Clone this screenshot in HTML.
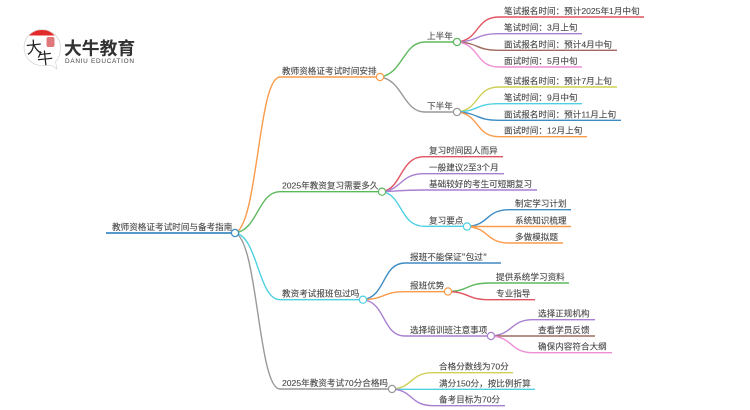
<!DOCTYPE html>
<html><head><meta charset="utf-8"><style>
html,body{margin:0;padding:0;background:#fff;width:750px;height:410px;overflow:hidden}
svg{display:block}
text{font-family:"Liberation Sans","Noto Sans CJK SC",sans-serif}
.t text{font-size:8.6px;fill:#4a4a4a;stroke:#4a4a4a;stroke-width:.12px}
.l path{fill:none;stroke-width:1.4}
.c circle{fill:#fff;stroke-width:1.2}
</style></head><body>
<svg width="750" height="410" viewBox="0 0 750 410" xmlns="http://www.w3.org/2000/svg">
<defs><filter id="b" x="-5%" y="-5%" width="110%" height="110%"><feGaussianBlur stdDeviation="0.28"/></filter></defs>
<g filter="url(#b)">
<!-- logo -->
<path d="M42 29.500C32 29.500 24 37.500 24 47.500C24 57.500 32 65.500 42 65.500C46 65.500 49 64.800 52 65.500L57 69L55.500 62C58.500 58.500 60.500 53 60.500 47.500C60.500 37.500 52 29.500 42 29.500Z" fill="#fff" stroke="#ccc" stroke-width="0.6"/>
<path d="M29 35.500C33 31.500 37 30 42 30C47 30 51 31.500 54.500 35.500Z" fill="#e32b2b"/>
<rect x="46.500" y="37" width="8" height="10" rx="2" fill="#e0777a"/>
<text x="26" y="53" font-size="16" fill="#222" transform="rotate(-6 34 47)" style="font-family:'Noto Sans CJK SC',sans-serif">大</text>
<text x="37" y="64" font-size="16" fill="#222" transform="rotate(-6 45 58)" style="font-family:'Noto Sans CJK SC',sans-serif">牛</text>
<text x="64" y="54.500" font-size="17.800" font-weight="bold" fill="#333" style="font-family:'Noto Sans CJK SC',sans-serif">大牛教育</text>
<text x="65" y="63" font-size="6.400" fill="#444" textLength="69">DANIU EDUCATION</text>

<g class="l">
<!-- root -->
<path d="M106 233H235" stroke="#3d8cc4" style="stroke-width:1.800px"/>
<path d="M235 233C258 226 258 77 280 77H380" stroke="#fa9b4b"/>
<path d="M235 233C258 230 258 191.700 280 191.700H382" stroke="#5cb85c"/>
<path d="M235 233C258 236 258 299.700 280 299.700H363" stroke="#4dd0e1"/>
<path d="M235 233C258 240 258 389 280 389H392" stroke="#999"/>
<!-- b1 -->
<path d="M380 77C403 74 403 42 425 42H457" stroke="#5cb85c"/>
<path d="M380 77C403 80 403 112 425 112H457" stroke="#999"/>
<path d="M457 42C480 40 475 17 499 17H644" stroke="#e0535f"/>
<path d="M457 42C480 41 475 33.700 499 33.700H582" stroke="#a97fd0"/>
<path d="M457 42C480 43 475 50.300 499 50.300H617" stroke="#9e6a5f"/>
<path d="M457 42C480 44 475 67 499 67H582" stroke="#ee8fd5"/>
<path d="M457 112C480 110 475 87 499 87H617" stroke="#cfcf55"/>
<path d="M457 112C480 111 475 103.700 499 103.700H582" stroke="#4dd0e1"/>
<path d="M457 112C480 113 475 120.300 499 120.300H621" stroke="#3d8cc4"/>
<path d="M457 112C480 114 475 136.700 499 136.700H587" stroke="#fa9b4b"/>
<!-- b2 -->
<path d="M382 191.700C402 189 400 156.700 424 156.700H503" stroke="#e0535f"/>
<path d="M382 191.700C402 190 400 173.700 424 173.700H504" stroke="#a97fd0"/>
<path d="M382 191.700C402 191 400 190 424 190H537" stroke="#a97fd0"/>
<path d="M382 191.700C402 194 400 226.300 424 226.300H467" stroke="#4dd0e1"/>
<path d="M467 226.500C490 225 485 209.700 510 209.700H571" stroke="#3d8cc4"/>
<path d="M467 226.500H571" stroke="#fa9b4b"/>
<path d="M467 226.500C490 228 485 243 510 243H563" stroke="#fa9b4b"/>
<!-- b3 -->
<path d="M363 299.700C386 297 382 263 405 263H501" stroke="#3d8cc4"/>
<path d="M363 299.700C386 299 382 291.700 405 291.700H448" stroke="#fa9b4b"/>
<path d="M363 299.700C386 302 382 336 405 336H491" stroke="#a97fd0"/>
<path d="M448 291.500C470 291 466 283 490 283H569" stroke="#5cb85c"/>
<path d="M448 291.500C470 292 466 299.700 490 299.700H535" stroke="#e0535f"/>
<path d="M491 336C513 335 510 319.700 533 319.700H595" stroke="#a97fd0"/>
<path d="M491 336H595" stroke="#9e6a5f"/>
<path d="M491 336C513 337 510 352.700 533 352.700H612" stroke="#ee8fd5"/>
<!-- b4 -->
<path d="M392 389C413 388 410 372.700 433 372.700H513" stroke="#cfcf55"/>
<path d="M392 389.300H535" stroke="#4dd0e1"/>
<path d="M392 389C413 390 410 405.700 433 405.700H505" stroke="#a97fd0"/>
</g>
<g class="c">
<circle cx="235" cy="233" r="3.600" stroke="#3d8cc4"/>
<circle cx="380" cy="77" r="3.600" stroke="#fa9b4b"/>
<circle cx="382" cy="191.700" r="3.600" stroke="#5cb85c"/>
<circle cx="363" cy="299.700" r="3.600" stroke="#4dd0e1"/>
<circle cx="392" cy="389" r="3.600" stroke="#999"/>
<circle cx="457" cy="42" r="3.600" stroke="#5cb85c"/>
<circle cx="457" cy="112" r="3.600" stroke="#999"/>
<circle cx="467" cy="226.500" r="3.600" stroke="#4dd0e1"/>
<circle cx="448" cy="291.500" r="3.600" stroke="#fa9b4b"/>
<circle cx="491" cy="336" r="3.600" stroke="#a97fd0"/>
</g>
<g class="t">
<text x="112" y="230">教师资格证考试时间与备考指南</text>
<text x="282" y="74">教师资格证考试时间安排</text>
<text x="282" y="188.700">2025年教资复习需要多久</text>
<text x="282" y="296.700">教资考试报班包过吗</text>
<text x="282" y="386">2025年教资考试70分合格吗</text>
<text x="427" y="39">上半年</text>
<text x="427" y="109">下半年</text>
<text x="504" y="14">笔试报名时间：预计2025年1月中旬</text>
<text x="504" y="30.700">笔试时间：3月上旬</text>
<text x="504" y="47.300">面试报名时间：预计4月中旬</text>
<text x="504" y="64">面试时间：5月中旬</text>
<text x="504" y="84">笔试报名时间：预计7月上旬</text>
<text x="504" y="100.700">笔试时间：9月中旬</text>
<text x="504" y="117.300">面试报名时间：预计11月上旬</text>
<text x="504" y="133.700">面试时间：12月上旬</text>
<text x="429" y="153.700">复习时间因人而异</text>
<text x="429" y="170.700">一般建议2至3个月</text>
<text x="429" y="187">基础较好的考生可短期复习</text>
<text x="429" y="223.300">复习要点</text>
<text x="515" y="206.700">制定学习计划</text>
<text x="515" y="223.300">系统知识梳理</text>
<text x="515" y="240">多做模拟题</text>
<text x="410" y="260" style="font-family:'Noto Sans CJK JP',sans-serif">报班不能保证“包过”</text>
<text x="410" y="288.700">报班优势</text>
<text x="410" y="333">选择培训班注意事项</text>
<text x="496" y="280">提供系统学习资料</text>
<text x="496" y="296.700">专业指导</text>
<text x="538" y="316.700">选择正规机构</text>
<text x="538" y="333">查看学员反馈</text>
<text x="538" y="349.700">确保内容符合大纲</text>
<text x="439" y="369.700">合格分数线为70分</text>
<text x="439" y="386.300">满分150分，按比例折算</text>
<text x="439" y="402.700">备考目标为70分</text>
</g>
</g>
</svg>
</body></html>
